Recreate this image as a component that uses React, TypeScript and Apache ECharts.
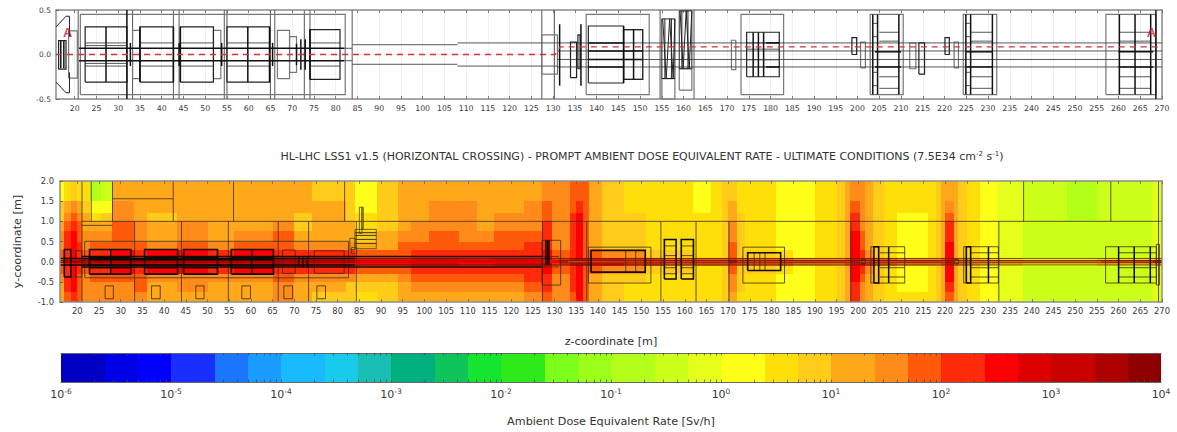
import React, { useEffect, useRef } from "react";
import * as echarts from "echarts";

const FONT = "DejaVu Sans";
const zTicks = Array.from({ length: 51 }, (_, i) => 20 + i * 5);

// colour of each dose band; limits: 1, 2.5, 5 per decade from 1e-6 to 1e4
const bandColors = [
  "#0000c4", "#0000e6", "#0000ff", "#1a2eff", "#1a75ff", "#1a9bff", "#1abaff", "#1acaeb", "#1abfb4", "#00b17f",
  "#10c45c", "#14e52e", "#2eea1a", "#7cff1a", "#9bff1a", "#b4ff1a", "#ccff1a", "#e6ff1a", "#ffff1a", "#ffdf0a",
  "#ffcc1a", "#ffa81a", "#ff8c1a", "#ff5a0a", "#ff2a0a", "#ff0000", "#de0000", "#c80000", "#ad0000", "#8e0000",
];
const bandLimits = [
  1e-6, 2.5e-6, 5e-6, 1e-5, 2.5e-5, 5e-5, 1e-4, 2.5e-4, 5e-4, 1e-3, 2.5e-3, 5e-3, 1e-2, 2.5e-2, 5e-2, 1e-1,
  2.5e-1, 5e-1, 1, 2.5, 5, 10, 25, 50, 100, 250, 500, 1000, 2500, 5000, 10000,
];
const barLabels = [1e-6, 1e-5, 1e-4, 1e-3, 1e-2, 1e-1, 1, 10, 100, 1000, 10000];

const yEdges = [2, 1.5, 1.2, 1, 0.75, 0.5, 0.3, 0.1, -0.1, -0.3, -0.5, -0.75, -1];
const zEdges = [
  16, 17, 18.5, 20, 21, 23, 25.5, 28, 33, 36, 43, 50, 56, 65, 70, 74, 82, 84, 89, 94, 97, 101, 108, 112, 116, 123, 127,
  129.5, 132, 133.5, 135, 136.5, 138, 141, 146, 151, 155, 162, 166, 168.5, 170, 172, 174, 181, 185, 190, 195, 197, 198,
  200.5, 201.5, 203.5, 206, 209, 216, 218, 219, 220, 222, 223, 225, 228, 232, 238, 248, 255, 268, 270,
];
// dose band per column (z slice), top row to bottom row
const doseBands = [
  [18, 20, 20, 21, 22, 22, 23, 23, 23, 22, 21, 21],
  [19, 21, 22, 23, 24, 24, 24, 25, 24, 24, 24, 23],
  [20, 22, 23, 24, 25, 25, 25, 25, 25, 25, 25, 24],
  [19, 21, 22, 23, 23, 24, 24, 25, 24, 23, 23, 23],
  [19, 20, 21, 21, 22, 22, 23, 26, 23, 22, 22, 22],
  [15, 18, 19, 21, 22, 23, 24, 27, 24, 23, 22, 22],
  [16, 18, 20, 21, 22, 23, 24, 27, 24, 23, 22, 22],
  [21, 22, 22, 23, 23, 23, 25, 27, 25, 23, 22, 22],
  [21, 21, 21, 22, 22, 23, 24, 27, 24, 23, 23, 22],
  [21, 21, 20, 21, 21, 22, 25, 27, 25, 22, 21, 21],
  [21, 21, 21, 22, 22, 23, 25, 27, 25, 22, 22, 21],
  [21, 21, 21, 21, 21, 22, 24, 26, 24, 22, 21, 21],
  [21, 21, 21, 21, 22, 23, 25, 27, 25, 22, 21, 21],
  [21, 21, 21, 22, 23, 23, 24, 27, 24, 23, 22, 22],
  [21, 21, 20, 20, 21, 22, 24, 26, 24, 22, 21, 21],
  [20, 21, 21, 21, 21, 22, 24, 26, 24, 22, 21, 20],
  [20, 20, 20, 21, 21, 22, 24, 25, 24, 22, 20, 20],
  [18, 18, 19, 19, 20, 21, 23, 25, 23, 21, 20, 19],
  [20, 20, 20, 20, 21, 21, 23, 25, 23, 21, 20, 20],
  [21, 21, 21, 21, 22, 23, 23, 25, 23, 22, 21, 21],
  [21, 21, 21, 22, 22, 23, 24, 26, 24, 23, 22, 21],
  [21, 22, 22, 22, 23, 23, 24, 26, 24, 23, 22, 21],
  [21, 22, 22, 22, 22, 23, 24, 25, 24, 23, 22, 21],
  [21, 21, 21, 21, 22, 23, 24, 25, 24, 23, 22, 21],
  [21, 21, 22, 22, 23, 23, 24, 26, 24, 23, 22, 21],
  [21, 22, 22, 22, 23, 24, 24, 26, 24, 24, 23, 22],
  [22, 23, 23, 24, 24, 24, 25, 27, 25, 24, 24, 23],
  [22, 22, 22, 22, 22, 22, 23, 24, 23, 22, 22, 22],
  [22, 22, 22, 22, 22, 22, 23, 24, 23, 22, 22, 22],
  [23, 23, 24, 24, 24, 24, 24, 26, 24, 24, 24, 23],
  [23, 24, 25, 25, 25, 25, 25, 27, 25, 25, 25, 25],
  [23, 23, 23, 23, 23, 23, 23, 25, 23, 23, 23, 23],
  [21, 21, 21, 21, 21, 21, 23, 25, 23, 21, 21, 21],
  [20, 20, 20, 20, 20, 20, 22, 25, 22, 20, 20, 20],
  [19, 19, 20, 20, 20, 20, 22, 24, 22, 20, 19, 19],
  [19, 19, 19, 19, 19, 19, 20, 24, 20, 19, 19, 19],
  [19, 19, 19, 19, 19, 19, 20, 23, 20, 19, 19, 19],
  [18, 18, 19, 19, 19, 19, 19, 23, 19, 19, 19, 19],
  [19, 19, 19, 19, 19, 19, 19, 23, 19, 19, 19, 19],
  [20, 20, 20, 20, 20, 20, 20, 23, 20, 20, 20, 20],
  [20, 21, 21, 22, 22, 23, 23, 24, 23, 22, 22, 21],
  [19, 19, 20, 20, 20, 20, 20, 23, 20, 20, 20, 19],
  [19, 19, 19, 19, 19, 19, 20, 23, 20, 19, 19, 19],
  [18, 18, 18, 18, 18, 18, 19, 23, 19, 18, 18, 18],
  [18, 18, 18, 18, 18, 18, 18, 22, 18, 18, 18, 18],
  [19, 19, 19, 19, 19, 19, 19, 22, 19, 19, 19, 19],
  [20, 20, 20, 20, 20, 20, 20, 22, 20, 20, 20, 20],
  [21, 21, 21, 21, 21, 21, 21, 23, 21, 21, 21, 21],
  [22, 23, 24, 24, 25, 25, 25, 25, 25, 25, 24, 24],
  [22, 22, 22, 22, 23, 23, 24, 25, 24, 23, 22, 22],
  [21, 21, 21, 21, 21, 21, 22, 24, 22, 21, 21, 21],
  [20, 20, 20, 20, 20, 20, 20, 23, 20, 20, 20, 20],
  [19, 19, 19, 19, 19, 19, 19, 23, 19, 19, 19, 19],
  [19, 19, 18, 18, 18, 18, 18, 22, 18, 18, 18, 19],
  [19, 19, 19, 19, 19, 19, 19, 22, 19, 19, 19, 19],
  [20, 20, 20, 20, 20, 20, 20, 22, 20, 20, 20, 20],
  [21, 21, 21, 21, 21, 21, 21, 23, 21, 21, 21, 21],
  [21, 22, 23, 24, 24, 25, 25, 25, 25, 25, 24, 23],
  [21, 21, 21, 21, 21, 21, 21, 23, 21, 21, 21, 21],
  [20, 20, 20, 20, 20, 20, 20, 22, 20, 20, 20, 20],
  [19, 19, 19, 19, 19, 19, 19, 21, 19, 19, 19, 19],
  [18, 18, 18, 18, 18, 18, 18, 20, 18, 18, 18, 18],
  [17, 17, 17, 17, 17, 17, 17, 19, 17, 17, 17, 17],
  [16, 16, 16, 16, 16, 16, 16, 18, 16, 16, 16, 16],
  [15, 15, 15, 16, 16, 16, 16, 18, 16, 16, 16, 16],
  [16, 16, 16, 16, 16, 16, 16, 19, 16, 16, 16, 16],
  [17, 17, 17, 17, 17, 17, 17, 20, 17, 17, 17, 17],
];
// band along the narrow beam-line core: [z start, z end, band]
const beamCore = [
  [16, 84, 28], [84, 127, 26], [127, 133, 25], [133, 170, 24], [170, 172, 27], [172, 198, 24], [198, 200.5, 26],
  [200.5, 220, 24], [220, 222, 26], [222, 256, 23], [256, 268, 24], [268, 270, 26],
];

// --- top machine layout, metres [z0, z1, y0, y1] ---
const topFullLines = [20.8, 33.3, 42.7, 44, 54.4, 55, 65, 66, 72.8, 74.1, 83.8, 127.4, 130.3, 154.6, 162.4];
const topGrayBoxes = [
  [21.3, 82.2, -0.45, 0.45], [33.3, 35, -0.27, 0.27], [51.9, 53.6, -0.27, 0.27], [18.6, 20.6, -0.265, 0.265],
  [69.4, 71, -0.2, 0.2], [127.4, 131, -0.22, 0.22], [137.6, 152.1, -0.45, 0.45], [171, 172, -0.17, 0.16],
  [173.2, 183, -0.45, 0.45], [200.7, 201.8, -0.15, 0.14], [202.9, 210.5, -0.45, 0.45], [212, 213.4, -0.16, 0.13],
  [222.2, 223.2, -0.15, 0.14], [224.3, 232, -0.45, 0.45], [257.1, 268.6, -0.45, 0.45], [155, 158, -0.5, -0.27],
  [159, 161.9, -0.4, -0.16], [146.2, 150.6, -0.28, 0.28], [66.6, 69.4, -0.27, 0.27],
];
const topDarkBoxes = [
  [22.4, 32, -0.31, 0.31], [35, 42.7, -0.31, 0.31], [44.3, 51.9, -0.31, 0.31], [55, 64.8, -0.31, 0.31],
  [74.1, 81, -0.28, 0.28], [138.1, 146.2, -0.32, 0.32], [146.2, 150.6, -0.28, 0.28], [174.5, 182, -0.25, 0.25],
  [16.3, 18, -0.165, 0.155], [198.7, 199.8, -0.0, 0.19], [220.1, 221.1, 0, 0.19], [214.1, 215.4, -0.22, 0.13],
  [134, 135.4, -0.26, 0.14], [135.7, 136.2, -0.16, 0.22],
];
const topThickLines = [
  [27.2, 27.2, -0.31, 0.31], [32, 32, -0.5, 0.5], [35, 35, -0.31, 0.31], [42.7, 42.7, -0.31, 0.31], [44.3, 44.3, -0.31, 0.31],
  [59.8, 59.8, -0.31, 0.31], [64.8, 64.8, -0.31, 0.31], [74.1, 74.1, -0.28, 0.28], [146.2, 146.2, -0.32, 0.32], [148.5, 148.5, -0.28, 0.28],
  [176, 176, -0.25, 0.25], [177.2, 177.2, -0.25, 0.25], [178.4, 178.4, -0.25, 0.25], [204.6, 204.6, -0.45, 0.45], [209.5, 209.5, -0.45, 0.45],
  [226, 226, -0.45, 0.45], [231, 231, -0.45, 0.45], [260.2, 260.2, -0.45, 0.45], [263.8, 263.8, -0.45, 0.45], [267.4, 267.4, -0.45, 0.45],
  [268.6, 268.6, -0.5, 0.5], [131.5, 131.5, -0.35, 0.34], [136.4, 136.4, -0.35, 0.34], [203.5, 203.5, -0.45, 0.45], [224.9, 224.9, -0.45, 0.45],
  [21, 82, 0.07, 0.07], [21, 82, -0.07, -0.07], [71, 71, -0.12, 0.12], [72, 72, -0.17, 0.17], [73, 73, -0.17, 0.17], [32.8, 32.8, -0.13, 0.13],
  [44, 44, -0.13, 0.13], [53.8, 53.8, -0.13, 0.13], [65.5, 65.5, -0.13, 0.13], [16.8, 16.8, -0.155, 0.155], [17.5, 17.5, -0.155, 0.155],
  [138.1, 146.2, 0.13, 0.13], [138.1, 146.2, -0.14, -0.14], [138.1, 150.6, 0.04, 0.04], [138.1, 150.6, -0.056, -0.056],
  [204, 210, 0.03, 0.03], [204, 210, -0.14, -0.14], [225, 231, 0.03, 0.03], [225, 231, -0.14, -0.14], [260, 268, 0.03, 0.03], [260, 268, -0.14, -0.14],
  [179, 182, 0.13, 0.13], [179, 182, -0.14, -0.14],
];
const topThinLines = [
  [22.4, 32, 0.13, 0.13], [22.4, 32, -0.13, -0.13], [22.4, 32, 0.1, 0.1], [22.4, 32, -0.1, -0.1], [35, 42.7, 0.13, 0.13], [35, 42.7, -0.13, -0.13],
  [44.3, 51.9, 0.13, 0.13], [44.3, 51.9, -0.13, -0.13], [55, 64.8, 0.13, 0.13], [55, 64.8, -0.13, -0.13], [74.1, 81, 0.13, 0.13], [74.1, 81, -0.13, -0.13],
  [83.8, 108, 0.11, 0.11], [83.8, 108, -0.11, -0.11], [108, 127.4, 0.13, 0.13], [108, 127.4, -0.13, -0.13],
  [131, 270, 0.13, 0.13], [131, 270, 0.04, 0.04], [131, 270, -0.056, -0.056], [131, 270, -0.14, -0.14],
  [82, 83.8, 0.07, 0.07], [82, 83.8, -0.07, -0.07], [127.4, 131, 0.13, 0.13], [127.4, 131, -0.13, -0.13],
  [174.5, 182, 0.13, 0.13], [174.5, 182, 0.06, 0.06], [174.5, 182, -0.06, -0.06], [174.5, 182, -0.14, -0.14],
  [205, 209.5, 0.25, 0.25], [205, 209.5, 0.15, 0.15], [205, 209.5, -0.25, -0.25], [205, 209.5, -0.38, -0.38],
  [226, 231, 0.25, 0.25], [226, 231, 0.15, 0.15], [226, 231, -0.25, -0.25], [226, 231, -0.38, -0.38],
  [260.2, 267.4, 0.25, 0.25], [260.2, 267.4, 0.15, 0.15], [260.2, 267.4, -0.25, -0.25], [260.2, 267.4, -0.38, -0.38],
  [203.5, 204.6, 0.35, 0.35], [203.5, 204.6, 0.2, 0.2], [203.5, 204.6, -0.2, -0.2], [203.5, 204.6, -0.35, -0.35],
  [224.9, 226, 0.35, 0.35], [224.9, 226, 0.2, 0.2], [224.9, 226, -0.2, -0.2], [224.9, 226, -0.35, -0.35],
];
const topOutlines = [
  [[15.7, 0.31], [18, 0.43], [18.8, 0.43], [18.8, 0.2]],
  [[15.7, -0.31], [18, -0.43], [18.8, -0.43], [18.8, -0.2]],
  [[155.2, 0.4], [156, -0.27], [156.8, 0.4], [157.6, -0.27], [158, 0.4], [155, 0.4], [155, -0.27], [158, -0.27], [158, 0.4]],
  [[159.2, 0.49], [159.9, -0.16], [160.6, 0.49], [161.3, -0.16], [161.9, 0.49], [159, 0.49], [159, -0.16], [161.9, -0.16], [161.9, 0.49]],
  [[155.7, 0.4], [155.7, -0.27]], [[157.2, 0.4], [157.2, -0.27]], [[159.6, 0.49], [159.6, -0.16]], [[161, 0.49], [161, -0.16]],
];
const beamPath = [[15.7, 0], [130.5, 0], [131.6, 0.086], [270, 0.086]];
const crossMarks = [[18.4, 0.25], [267.6, 0.25]];

// --- bottom machine layout ---
const lowFullLines = [
  [21.07, 21.07, -1, 2], [23.2, 23.2, 1, 2], [28.1, 28.1, 1, 2], [42.1, 42.1, 1, 2], [56, 56, 1, 2], [81.6, 81.6, 1, 2],
  [33.2, 33.2, -1, 1], [44, 44, -1, 1], [54.8, 54.8, -1, 1], [66.3, 66.3, -1, 1], [73.3, 73.3, -1, 1], [84.3, 84.3, -1, 1],
  [127.2, 127.2, -1, 1], [137.4, 137.4, -1, 1], [154.5, 154.5, -1, 1], [162.6, 162.6, -1, 1], [170.2, 170.2, -1, 1],
  [198.3, 198.3, -1, 1], [232.4, 232.4, -1, 1], [238.1, 238.1, 1, 2], [258.2, 258.2, 1, 2], [269.2, 269.2, -1, 2],
  [21.07, 270, 1, 1], [21.07, 28.1, 0.9, 0.9], [28.1, 42.1, 1.56, 1.56], [21.7, 82.5, 0.505, 0.505], [21.7, 82.5, -0.4, -0.4],
  [21.7, 21.7, -0.4, 0.505], [82.5, 82.5, -0.4, 0.505],
];
const lowThinBoxes = [
  [26.4, 28.3, -0.92, -0.6], [37.1, 39.1, -0.92, -0.6], [47.3, 49.2, -0.92, -0.6], [57.9, 59.9, -0.92, -0.6], [67.6, 69.6, -0.92, -0.6], [75.2, 77.2, -0.92, -0.6],
  [67.3, 70.2, -0.29, 0.29], [74.6, 81.5, -0.29, 0.27], [127.1, 131.4, -0.58, 0.53], [137.8, 152.2, -0.53, 0.36], [173.4, 183, -0.53, 0.36],
  [202.9, 210.7, -0.53, 0.37], [224.3, 232.3, -0.53, 0.37], [257, 268.7, -0.53, 0.37], [268.7, 269.4, -0.58, 0.43], [200.8, 201.6, -0.05, 0.05], [222.2, 223.1, -0.05, 0.05],
  [19.6, 21, -0.38, 0.27],
];
const lowDarkBoxes = [
  [22.8, 32.3, -0.31, 0.3], [35.5, 43.1, -0.31, 0.3], [44.5, 52.3, -0.31, 0.3], [55.5, 65.2, -0.31, 0.3],
  [138.4, 150.9, -0.26, 0.28], [155.3, 158, -0.43, 0.55], [159.2, 162, -0.43, 0.55], [174.5, 182.1, -0.22, 0.22],
  [203.6, 204.7, -0.53, 0.37], [224.9, 225.9, -0.53, 0.37], [17, 18.5, -0.38, 0.3],
];
const lowThickLines = [
  [27.7, 27.7, -0.31, 0.3], [60.2, 60.2, -0.31, 0.3], [21, 127, 0.13, 0.13], [21, 127, -0.13, -0.13], [16, 84, 0.08, 0.08], [16, 84, -0.08, -0.08],
  [128.4, 128.4, -0.07, 0.53], [128.7, 128.7, -0.07, 0.53], [128, 128, -0.07, 0.53], [22.8, 65.2, 0.05, 0.05], [22.8, 65.2, -0.08, -0.08],
  [22.8, 32.3, 0.1, 0.1], [22.8, 32.3, -0.15, -0.15], [35.5, 43.1, 0.1, 0.1], [35.5, 43.1, -0.15, -0.15], [44.5, 52.3, 0.1, 0.1], [44.5, 52.3, -0.15, -0.15],
  [55.5, 65.2, 0.1, 0.1], [55.5, 65.2, -0.15, -0.15], [71, 71, -0.12, 0.12], [72, 72, -0.14, 0.14], [73, 73, -0.14, 0.14],
  [207, 207, -0.53, 0.37], [260, 260, -0.53, 0.37], [263.6, 263.6, -0.53, 0.37], [267.3, 267.3, -0.53, 0.37], [230, 230, -0.53, 0.37],
];
const lowThinLines = [
  [84, 270, 0.08, 0.08], [84, 270, -0.08, -0.08], [131, 270, 0.03, 0.03], [131, 270, -0.03, -0.03], [127, 131, 0.13, 0.13], [127, 131, -0.13, -0.13],
  [146.4, 146.4, -0.26, 0.28], [148.7, 148.7, -0.26, 0.28], [176, 176, -0.22, 0.22], [177.3, 177.3, -0.22, 0.22], [178.5, 178.5, -0.22, 0.22],
  [155.3, 158, 0.39, 0.39], [155.3, 158, -0.3, -0.3], [159.2, 162, 0.39, 0.39], [159.2, 162, -0.3, -0.3],
  [155.3, 158, 0.15, 0.15], [155.3, 158, -0.15, -0.15], [159.2, 162, 0.15, 0.15], [159.2, 162, -0.15, -0.15],
  [205, 210.7, 0.22, 0.22], [205, 210.7, -0.15, -0.15], [205, 210.7, -0.38, -0.38], [225.9, 232.3, 0.22, 0.22], [225.9, 232.3, -0.15, -0.15], [225.9, 232.3, -0.38, -0.38],
  [260, 268.7, 0.22, 0.22], [260, 268.7, -0.15, -0.15], [260, 268.7, -0.38, -0.38],
];
const lowOliveBoxes = [
  [84, 88.9, 0.32, 0.8], [82.8, 84, 0.3, 0.58], [85, 85.6, 0.7, 1.35], [85.6, 85.9, 0.8, 1.35],
  [84, 88.9, 0.45, 0.45], [84, 88.9, 0.55, 0.55], [84, 88.9, 0.65, 0.65], [84, 88.9, 0.72, 0.72], [83.2, 84.4, 0.2, 0.35],
];

const toRect = (r: number[]) => [[r[0], r[2]], [r[1], r[2]], [r[1], r[3]], [r[0], r[3]], [r[0], r[2]]];
const toLine = (r: number[]) => [[r[0], r[2]], [r[1], r[3]]];

function outline(name: string, x: number, y: number, shapes: number[][][], stroke: string, lineWidth: number) {
  return {
    type: "custom", name, xAxisIndex: x, yAxisIndex: y, silent: true, clip: false, z: 4,
    data: shapes.map((s) => s[0]),
    encode: { x: 0, y: 1 },
    renderItem: (p: any, api: any) => ({
      type: "polyline",
      shape: { points: shapes[p.dataIndex].map((q) => api.coord(q)) },
      style: { stroke, lineWidth, fill: "none" },
    }),
  };
}

function cells(name: string, x: number, y: number, data: number[][], z = 2) {
  return {
    type: "custom", name, xAxisIndex: x, yAxisIndex: y, silent: true, z,
    data,
    encode: { x: [0, 1], y: [2, 3] },
    renderItem: (_: any, api: any) => {
      const a = api.coord([api.value(0), api.value(2)]);
      const b = api.coord([api.value(1), api.value(3)]);
      const x0 = Math.round(a[0]), x1 = Math.round(b[0]);
      const y0 = Math.round(a[1]), y1 = Math.round(b[1]);
      return {
        type: "rect",
        shape: { x: Math.min(x0, x1), y: Math.min(y0, y1), width: Math.abs(x1 - x0), height: Math.abs(y1 - y0) },
        style: { fill: bandColors[api.value(4)] },
      };
    },
  };
}

const doseCells: number[][] = [];
doseBands.forEach((col, i) => col.forEach((band, j) => {
  doseCells.push([zEdges[i], zEdges[i + 1], yEdges[j], yEdges[j + 1], band]);
}));
const coreCells = beamCore.map(([a, b, band]) => [a, b, 0.04, -0.04, band]);
const barCells = bandColors.map((_, i) => [bandLimits[i], bandLimits[i + 1], 0, 1, i]);
const barTicks: number[] = [];
for (let e = -6; e < 4; e++) for (let m = 1; m < 10; m++) barTicks.push(Number(`${m}e${e}`));

const axisGray = "#8c8c8c";
const labelColor = "#3a3a3a";

function zAxis(grid: number, min: number, labels: boolean, position: string, split: boolean, fontSize: number, over: boolean, name?: string) {
  return {
    type: "value", gridIndex: grid, min, max: 270, position, z: over ? 10 : 0,
    name, nameLocation: "middle", nameGap: 34,
    nameTextStyle: { fontFamily: FONT, fontSize: 11.2, color: "#333" },
    axisLine: { show: true, onZero: false, lineStyle: { color: axisGray, width: 1.5 } },
    axisTick: { show: true, inside: true, length: 3, customValues: zTicks, lineStyle: { color: "#666", width: 0.8 } },
    axisLabel: { show: labels, customValues: zTicks, margin: 5, color: labelColor, fontSize, fontFamily: FONT, hideOverlap: false },
    splitLine: { show: split, lineStyle: { color: "#ececec", width: 0.8 } },
  };
}

const rightAxis = (grid: number, min: number, max: number, over: boolean) => ({
  type: "value", gridIndex: grid, min, max, position: "right", z: over ? 10 : 0,
  axisLine: { show: true, onZero: false, lineStyle: { color: axisGray, width: 1.5 } },
  axisTick: { show: false }, axisLabel: { show: false }, splitLine: { show: false },
});

const option = {
  animation: false,
  backgroundColor: "#ffffff",
  textStyle: { fontFamily: FONT },
  title: {
    text: "HL-LHC LSS1 v1.5 (HORIZONTAL CROSSING) - PROMPT AMBIENT DOSE EQUIVALENT RATE - ULTIMATE CONDITIONS (7.5E34 cm{sup|-2} s{sup|-1})",
    left: 637, top: 145, textAlign: "center",
    textStyle: {
      fontFamily: FONT, fontSize: 11, fontWeight: "normal", color: "#333",
      rich: { sup: { fontFamily: FONT, fontSize: 7, color: "#333", padding: [0, 0, 5, 0] } },
    },
  },
  grid: [
    { left: 56, top: 10, width: 1106, height: 89 },
    { left: 60, top: 181, width: 1102, height: 121 },
    { left: 61, top: 353, width: 1100, height: 29 },
  ],
  xAxis: [
    zAxis(0, 15.7, true, "bottom", true, 7.8, false),
    zAxis(0, 15.7, false, "top", false, 7.8, false),
    zAxis(1, 16, true, "bottom", false, 8.4, true, "z-coordinate [m]"),
    zAxis(1, 16, false, "top", false, 8.4, true),
    {
      type: "log", logBase: 10, gridIndex: 2, min: 1e-6, max: 1e4, position: "bottom", z: 10,
      name: "Ambient Dose Equivalent Rate [Sv/h]", nameLocation: "middle", nameGap: 34,
      nameTextStyle: { fontFamily: FONT, fontSize: 11.2, color: "#333" },
      axisLine: { show: true, lineStyle: { color: "#666", width: 1 } },
      axisTick: { show: true, inside: true, length: 2.5, customValues: barTicks, lineStyle: { color: "#444", width: 0.7 } },
      axisLabel: {
        margin: 5, color: labelColor, fontFamily: FONT, customValues: barLabels, hideOverlap: false,
        formatter: (v: number) => `{b|10}{e|${Math.round(Math.log10(v))}}`,
        rich: {
          b: { fontFamily: FONT, fontSize: 11, color: labelColor },
          e: { fontFamily: FONT, fontSize: 7.5, color: labelColor, padding: [0, 0, 6, 0] },
        },
      },
      splitLine: { show: false },
    },
    {
      type: "log", logBase: 10, gridIndex: 2, min: 1e-6, max: 1e4, position: "top", z: 10,
      axisLine: { show: true, lineStyle: { color: "#666", width: 1 } },
      axisTick: { show: true, inside: true, length: 2.5, customValues: barTicks, lineStyle: { color: "#444", width: 0.7 } },
      axisLabel: { show: false },
      splitLine: { show: false },
    },
  ],
  yAxis: [
    {
      type: "value", gridIndex: 0, min: -0.5, max: 0.5, interval: 0.5, z: 0,
      axisLine: { show: true, onZero: false, lineStyle: { color: axisGray, width: 1.5 } },
      axisTick: { show: true, inside: true, length: 3, lineStyle: { color: "#666" } },
      axisLabel: { margin: 5, color: labelColor, fontSize: 7.5, fontFamily: FONT, formatter: (v: number) => v.toFixed(1) },
      splitLine: { show: true, lineStyle: { color: "#ececec", width: 0.8 } },
    },
    {
      type: "value", gridIndex: 1, min: -1, max: 2, interval: 0.5, z: 10,
      name: "y-coordinate [m]", nameLocation: "middle", nameGap: 37, nameRotate: 90,
      nameTextStyle: { fontFamily: FONT, fontSize: 11.2, color: "#333" },
      axisLine: { show: true, onZero: false, lineStyle: { color: axisGray, width: 1.5 } },
      axisTick: { show: true, inside: true, length: 3, lineStyle: { color: "#666" } },
      axisLabel: { margin: 6, color: labelColor, fontSize: 8.4, fontFamily: FONT, formatter: (v: number) => v.toFixed(1) },
      splitLine: { show: false },
    },
    { type: "value", gridIndex: 2, min: 0, max: 1, show: false },
    rightAxis(0, -0.5, 0.5, false),
    rightAxis(1, -1, 2, true),
  ],
  series: [
    outline("Layout full lines", 0, 0, topFullLines.map((z) => [[z, -0.5], [z, 0.5]]), "#666", 1.1),
    outline("Layout gray", 0, 0, topGrayBoxes.map(toRect), "#777", 1.2),
    outline("Layout thin", 0, 0, topThinLines.map(toLine), "#444", 0.9),
    outline("Layout dark", 0, 0, topDarkBoxes.map(toRect), "#222", 1.2),
    outline("Layout thick", 0, 0, topThickLines.map(toLine), "#111", 1.5),
    outline("Layout outlines", 0, 0, topOutlines, "#222", 1),
    {
      type: "line", name: "Beam path", xAxisIndex: 0, yAxisIndex: 0, data: beamPath, showSymbol: false, z: 6,
      lineStyle: { color: "#d6303a", width: 1.3, type: [6, 5] },
    },
    {
      type: "scatter", name: "Section", xAxisIndex: 0, yAxisIndex: 0, data: crossMarks, symbolSize: 0, z: 7,
      label: { show: true, position: "inside", formatter: "A", color: "#c8102e", fontSize: 13, fontWeight: "bold", fontFamily: "Liberation Sans" },
    },
    cells("Dose", 2, 1, doseCells, 2),
    cells("Dose core", 2, 1, coreCells, 3),
    outline("Walls", 2, 1, lowFullLines.map(toLine), "#3b3020", 0.8),
    outline("Thin boxes", 2, 1, lowThinBoxes.map(toRect), "#3b2a10", 0.8),
    outline("Thin lines", 2, 1, lowThinLines.map(toLine), "#3b2a10", 0.8),
    outline("Dark boxes", 2, 1, lowDarkBoxes.map(toRect), "#120a04", 1.6),
    outline("Thick lines", 2, 1, lowThickLines.map(toLine), "#120a04", 1.5),
    outline("Object", 2, 1, lowOliveBoxes.map(toRect), "#4a4008", 0.8),
    cells("Colour bar", 4, 2, barCells, 2),
  ],
};

export default function App() {
  const ref = useRef<HTMLDivElement>(null);
  useEffect(() => {
    document.body.style.margin = "0";
    const chart = echarts.init(ref.current!, undefined, { renderer: "svg" });
    chart.setOption(option as any);
    return () => chart.dispose();
  }, []);
  return <div ref={ref} style={{ width: 1177, height: 432 }} />;
}
